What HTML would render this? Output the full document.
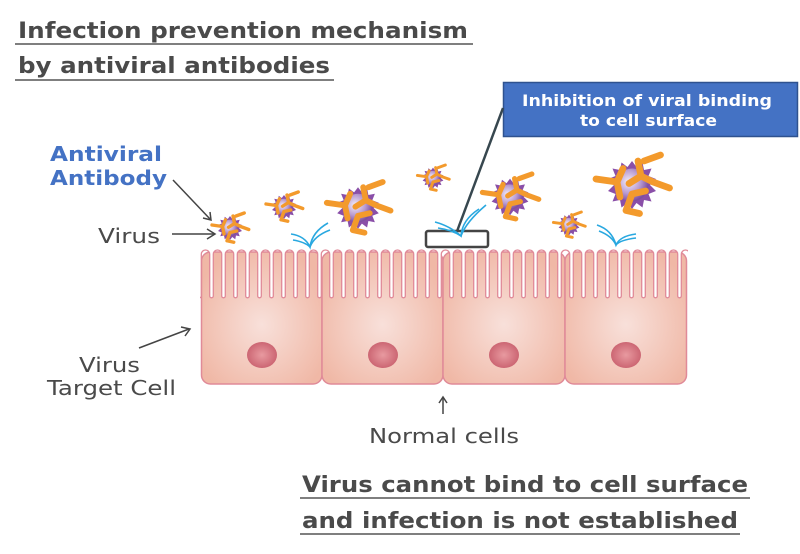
<!DOCTYPE html>
<html><head><meta charset="utf-8"><style>
html,body{margin:0;padding:0;background:#fff}
svg{display:block}
text{font-family:"DejaVu Sans","Liberation Sans",sans-serif}
</style></head><body>
<svg width="800" height="554" viewBox="0 0 800 554" xmlns="http://www.w3.org/2000/svg">
<defs>
<radialGradient id="cg" cx="0.5" cy="0.55" r="0.6">
<stop offset="0" stop-color="#f8e0da"/><stop offset="1" stop-color="#f0b8a6"/></radialGradient>
<radialGradient id="vg" cx="0.4" cy="0.4" r="0.6">
<stop offset="0" stop-color="#f4eefa"/><stop offset="0.6" stop-color="#b89ad0"/><stop offset="1" stop-color="#7e4fa0"/></radialGradient>
<radialGradient id="ng" cx="0.5" cy="0.5" r="0.5">
<stop offset="0" stop-color="#e89aa0"/><stop offset="1" stop-color="#cc6673"/></radialGradient>
<pattern id="vil" x="205.5" y="246" width="12" height="56" patternUnits="userSpaceOnUse">
<path d="M-1,0 L13,0 L13,4 L12,4 A4.2,4.2 0 0 0 7.8,8.2 L7.8,50 A1.8,1.8 0 0 1 4.2,50 L4.2,8.2 A4.2,4.2 0 0 0 0,4 L-1,4 Z" fill="#fff"/>
<path d="M12,4 A4.2,4.2 0 0 0 7.8,8.2 L7.8,50 A1.8,1.8 0 0 1 4.2,50 L4.2,8.2 A4.2,4.2 0 0 0 0,4" fill="none" stroke="#e08a98" stroke-width="1.3"/>
</pattern>
<g id="vir">
<path d="M0,-16 L3,-12 L7,-15 L8,-10 L13,-11 L11,-6 L16,-4 L12,0 L16,4 L11,6 L13,11 L8,10 L7,15 L3,12 L0,16 L-3,12 L-7,15 L-8,10 L-13,11 L-11,6 L-16,4 L-12,0 L-16,-4 L-11,-6 L-13,-11 L-8,-10 L-7,-15 L-3,-12Z" fill="#8a4fa8"/>
<circle r="11" fill="url(#vg)"/>
<g stroke="#f39a2c" stroke-width="4.5" stroke-linecap="round" fill="none">
<path d="M-24,-4 L-10,-2 M-10,-2 L-6,-11 M-10,-2 L-8,8"/>
<path d="M4,-16 L6,-6 M6,-6 L-2,-1 M6,-6 L14,-2 M8,-16 L19,-20 M14,-2 L25,2"/>
<path d="M0,6 L-4,17 M0,6 L9,4 M-4,17 L5,19"/>
</g>
</g>
</defs>

<text x="18" y="38" font-size="22" font-weight="bold" fill="#4a4a4a" textLength="450" lengthAdjust="spacingAndGlyphs">Infection prevention mechanism</text>
<line x1="15" y1="44" x2="473" y2="44" stroke="#555" stroke-width="1.5"/>
<text x="18" y="73" font-size="22" font-weight="bold" fill="#4a4a4a" textLength="312" lengthAdjust="spacingAndGlyphs">by antiviral antibodies</text>
<line x1="15" y1="80" x2="334" y2="80" stroke="#555" stroke-width="1.5"/>

<rect x="503.5" y="82.5" width="294" height="54" fill="#4472c4" stroke="#2f528f" stroke-width="1.5"/>
<text x="522" y="106" font-size="16" font-weight="bold" fill="#fff" textLength="250" lengthAdjust="spacingAndGlyphs">Inhibition of viral binding</text>
<text x="580" y="126" font-size="16" font-weight="bold" fill="#fff" textLength="137" lengthAdjust="spacingAndGlyphs">to cell surface</text>
<line x1="503" y1="108" x2="456" y2="234" stroke="#37474f" stroke-width="2.5"/>

<g>
<rect x="201.5" y="252" width="120.5" height="132" rx="9" fill="url(#cg)" stroke="#e08a98" stroke-width="1.5"/>
<rect x="322" y="252" width="121" height="132" rx="9" fill="url(#cg)" stroke="#e08a98" stroke-width="1.5"/>
<rect x="443" y="252" width="122" height="132" rx="9" fill="url(#cg)" stroke="#e08a98" stroke-width="1.5"/>
<rect x="565" y="252" width="121.5" height="132" rx="9" fill="url(#cg)" stroke="#e08a98" stroke-width="1.5"/>
<rect x="200" y="246" width="488" height="56" fill="url(#vil)"/>
<ellipse cx="262" cy="355" rx="15" ry="13" fill="url(#ng)"/>
<ellipse cx="383" cy="355" rx="15" ry="13" fill="url(#ng)"/>
<ellipse cx="504" cy="355" rx="15" ry="13" fill="url(#ng)"/>
<ellipse cx="626" cy="355" rx="15" ry="13" fill="url(#ng)"/>
</g>

<rect x="426" y="231" width="62" height="16" rx="2" fill="#fff" stroke="#444" stroke-width="2.5"/>

<g stroke="#29a8e0" stroke-width="1.6" fill="none">
<path d="M291,234 Q305,236 310,247 Q312,232 328,223"/>
<path d="M293,240 Q305,242 310,247 Q314,236 330,230"/>
<path d="M435,222 Q450,226 461,236 Q462,220 479,209"/>
<path d="M438,228 Q452,230 461,236 Q466,222 486,205"/>
<path d="M597,225 Q612,230 616,245 Q620,236 636,234"/>
<path d="M599,231 Q612,236 616,245 Q620,240 636,238"/>
</g>

<use href="#vir" transform="translate(230,228) scale(0.75)"/>
<use href="#vir" transform="translate(284,207) scale(0.75)"/>
<use href="#vir" transform="translate(358,208) scale(1.3)"/>
<use href="#vir" transform="translate(433,178) scale(0.65)"/>
<use href="#vir" transform="translate(510,197) scale(1.15)"/>
<use href="#vir" transform="translate(632,185) scale(1.5)"/>
<use href="#vir" transform="translate(569,225) scale(0.65)"/>

<text x="50" y="161" font-size="20" font-weight="bold" fill="#4472c4" textLength="112" lengthAdjust="spacingAndGlyphs">Antiviral</text>
<text x="50" y="185" font-size="20" font-weight="bold" fill="#4472c4" textLength="117" lengthAdjust="spacingAndGlyphs">Antibody</text>
<line x1="173" y1="180" x2="210" y2="219" stroke="#444" stroke-width="1.5"/>
<path d="M203,218 L211,220 L210,212" fill="none" stroke="#444" stroke-width="1.5"/>
<text x="98" y="243" font-size="20" fill="#4a4a4a" textLength="62" lengthAdjust="spacingAndGlyphs">Virus</text>
<line x1="172" y1="234" x2="214" y2="234" stroke="#444" stroke-width="1.5"/>
<path d="M207,229 L215,234 L207,239" fill="none" stroke="#444" stroke-width="1.5"/>
<text x="79" y="372" font-size="20" fill="#4a4a4a" textLength="61" lengthAdjust="spacingAndGlyphs">Virus</text>
<text x="47" y="395" font-size="20" fill="#4a4a4a" textLength="129" lengthAdjust="spacingAndGlyphs">Target Cell</text>
<line x1="139" y1="348" x2="189" y2="329" stroke="#444" stroke-width="1.5"/>
<path d="M181,327 L190,329 L185,336" fill="none" stroke="#444" stroke-width="1.5"/>
<line x1="443" y1="414" x2="443" y2="398" stroke="#444" stroke-width="1.5"/>
<path d="M439,403 L443,397 L447,403" fill="none" stroke="#444" stroke-width="1.5"/>
<text x="369" y="443" font-size="20" fill="#4a4a4a" textLength="150" lengthAdjust="spacingAndGlyphs">Normal cells</text>

<text x="302" y="492" font-size="22" font-weight="bold" fill="#4a4a4a" textLength="446" lengthAdjust="spacingAndGlyphs">Virus cannot bind to cell surface</text>
<line x1="300" y1="498" x2="750" y2="498" stroke="#555" stroke-width="1.5"/>
<text x="302" y="528" font-size="22" font-weight="bold" fill="#4a4a4a" textLength="436" lengthAdjust="spacingAndGlyphs">and infection is not established</text>
<line x1="300" y1="534" x2="740" y2="534" stroke="#555" stroke-width="1.5"/>
</svg>
</body></html>
